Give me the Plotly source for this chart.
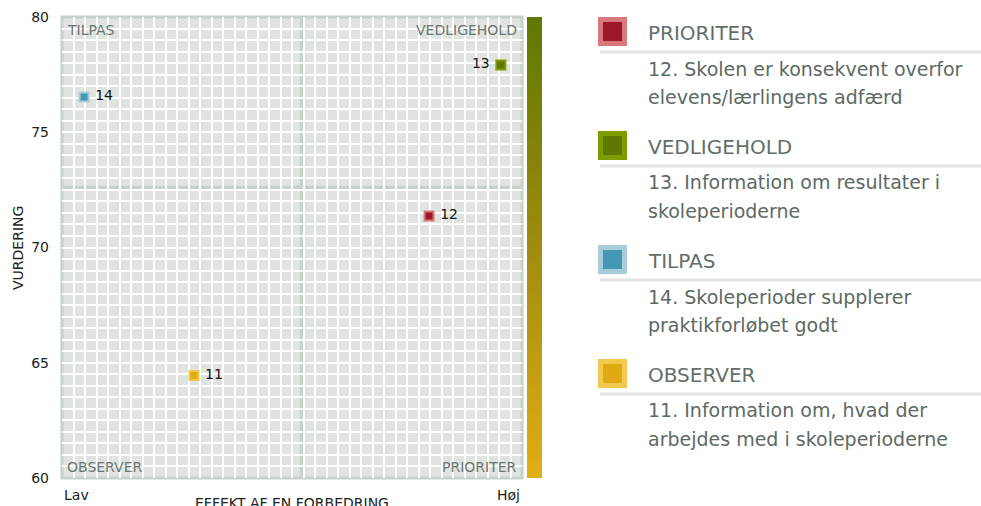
import plotly.graph_objects as go

# ---------------- data ----------------
item_ids = ["11", "12", "13", "14"]
effect = [28.7, 79.8, 95.4, 4.8]          # EFFEKT AF EN FORBEDRING (Lav..Høj, 0-100)
rating = [64.45, 71.37, 77.92, 76.53]     # VURDERING
quadrant = ["OBSERVER", "PRIORITER", "VEDLIGEHOLD", "TILPAS"]
label_side = ["middle right", "middle right", "middle left", "middle right"]

x_split = 52.1
y_split = 72.6

y_ticks = [60, 65, 70, 75, 80]

legend_order = ["PRIORITER", "VEDLIGEHOLD", "TILPAS", "OBSERVER"]
legend_desc = {
    "PRIORITER": ["12. Skolen er konsekvent overfor", "elevens/lærlingens adfærd"],
    "VEDLIGEHOLD": ["13. Information om resultater i", "skoleperioderne"],
    "TILPAS": ["14. Skoleperioder supplerer", "praktikforløbet godt"],
    "OBSERVER": ["11. Information om, hvad der", "arbejdes med i skoleperioderne"],
}

fill_col = {"PRIORITER": "#9c1728", "VEDLIGEHOLD": "#5f7800",
            "TILPAS": "#4597b4", "OBSERVER": "#e0aa14"}
edge_col = {"PRIORITER": "#d9787c", "VEDLIGEHOLD": "#7d9c00",
            "TILPAS": "#a7cddb", "OBSERVER": "#f2c84f"}

# ---------------- layout geometry ----------------
W, H = 981, 506
L, R, T, B = 62, 522, 17, 478
FONT = "DejaVu Sans"
GRID_BG = "#dfe4e1"
FRAME = "#c6d1c8"


def px(xp):
    return (xp - L) / (R - L)


def py(yp):
    return (B - yp) / (B - T)


fig = go.Figure()

fig.add_trace(go.Scatter(
    x=effect, y=rating, mode="markers+text",
    text=item_ids, textposition=label_side,
    texttemplate=[" %{text}" if s.endswith("right") else "%{text} " for s in label_side],
    textfont=dict(family=FONT, size=14, color="#111111"),
    marker=dict(symbol="square", size=9,
                color=[fill_col[q] for q in quadrant],
                line=dict(width=2, color=[edge_col[q] for q in quadrant])),
    hoverinfo="skip", showlegend=False, cliponaxis=False,
))

# gradient bar (colorbar from a dummy trace)
fig.add_trace(go.Scatter(
    x=[None, None], y=[None, None], mode="markers", showlegend=False,
    marker=dict(color=[0, 1], cmin=0, cmax=1,
                colorscale=[[0, "#e2ae14"], [0.5, "#a08b0f"], [1, "#5e7900"]],
                showscale=True,
                colorbar=dict(x=px(527), xanchor="left", xpad=0,
                              y=0.5, yanchor="middle", len=1, lenmode="fraction",
                              ypad=0, thickness=15, outlinewidth=0,
                              showticklabels=False, ticks="")),
))

shapes = []
# quadrant split lines
shapes.append(dict(type="line", xref="x", yref="paper", x0=x_split, x1=x_split,
                   y0=0, y1=1, line=dict(color=FRAME, width=3.5), layer="between"))
shapes.append(dict(type="line", xref="paper", yref="y", x0=0, x1=1,
                   y0=y_split, y1=y_split, line=dict(color=FRAME, width=3.5), layer="between"))
# frame
shapes.append(dict(type="rect", xref="paper", yref="paper", x0=0, x1=1, y0=0, y1=1,
                   line=dict(color=FRAME, width=3), layer="between"))

annotations = []
qfont = dict(family=FONT, size=14, color="#6b7671")
annotations += [
    dict(x=px(65), y=py(30), text="TILPAS", xanchor="left"),
    dict(x=px(519), y=py(30), text="VEDLIGEHOLD", xanchor="right"),
    dict(x=px(65), y=py(467), text="OBSERVER", xanchor="left"),
    dict(x=px(519), y=py(467), text="PRIORITER", xanchor="right"),
]
for a in annotations:
    a.update(xref="paper", yref="paper", yanchor="middle", showarrow=False, font=qfont)

afont = dict(family=FONT, size=14, color="#222222")
annotations += [
    dict(x=px(62), y=py(495), text="Lav", xanchor="left", yanchor="middle",
         xref="paper", yref="paper", showarrow=False, font=afont),
    dict(x=px(522), y=py(495), text="Høj", xanchor="right", yanchor="middle",
         xref="paper", yref="paper", showarrow=False, font=afont),
    dict(x=px(292), y=py(503), text="EFFEKT AF EN FORBEDRING", xanchor="center",
         yanchor="middle", xref="paper", yref="paper", showarrow=False, font=afont),
    dict(x=px(18), y=py(248), text="VURDERING", textangle=-90, xanchor="center",
         yanchor="middle", xref="paper", yref="paper", showarrow=False, font=afont),
]

# custom legend
tops = [17, 131, 245, 359]
for q, t in zip(legend_order, tops):
    shapes.append(dict(type="rect", xref="paper", yref="paper",
                       x0=px(598), x1=px(627), y0=py(t + 29), y1=py(t),
                       fillcolor=edge_col[q], line=dict(width=0)))
    shapes.append(dict(type="rect", xref="paper", yref="paper",
                       x0=px(603), x1=px(622), y0=py(t + 24), y1=py(t + 5),
                       fillcolor=fill_col[q], line=dict(width=0)))
    shapes.append(dict(type="line", xref="paper", yref="paper",
                       x0=px(600), x1=px(985), y0=py(t + 35), y1=py(t + 35),
                       line=dict(color="#e3e3e3", width=3)))
    annotations.append(dict(x=px(646), y=py(t + 16), text=q, xanchor="left",
                            yanchor="middle", xref="paper", yref="paper",
                            showarrow=False,
                            font=dict(family=FONT, size=20, color="#636e68")))
    for i, line in enumerate(legend_desc[q]):
        annotations.append(dict(x=px(646), y=py(t + 51.5 + 28.5 * i), text=line,
                                xanchor="left", yanchor="middle", xref="paper",
                                yref="paper", showarrow=False,
                                font=dict(family=FONT, size=19, color="#5d6963")))

fig.update_layout(
    width=W, height=H,
    margin=dict(l=L, r=W - R, t=T, b=H - B, autoexpand=False),
    paper_bgcolor="white", plot_bgcolor=GRID_BG,
    font=dict(family=FONT, size=14, color="#222222"),
    shapes=shapes, annotations=annotations,
    xaxis=dict(range=[0, 100], dtick=2.5, showgrid=True, gridcolor="white",
               gridwidth=2, showticklabels=False, ticks="", zeroline=False,
               showline=False, fixedrange=True),
    yaxis=dict(range=[60, 80], tickvals=y_ticks, showgrid=True, gridcolor="white",
               gridwidth=2, ticks="", zeroline=False, showline=False,
               ticklabelstandoff=12,
               tickfont=dict(family=FONT, size=14, color="#222222"),
               minor=dict(dtick=0.5, showgrid=True, gridcolor="white", gridwidth=2),
               fixedrange=True),
)

fig.write_html("out.html", config={"displayModeBar": False},
               post_script="document.body.style.margin='0';")
